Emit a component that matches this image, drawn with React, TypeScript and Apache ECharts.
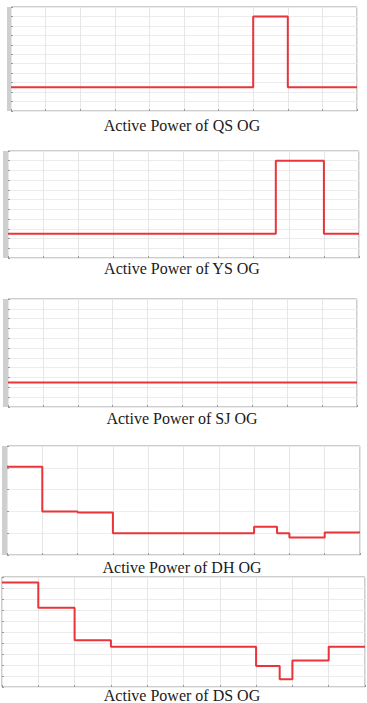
import React, { useEffect, useRef } from "react";
import * as echarts from "echarts";

// Step signals: breakpoint times and the level held from each time onward
const qsTimes = [0, 7, 8, 10];
const qsLevels = [2.5, 10, 2.5, 2.5];

const ysTimes = [0, 7.63, 9, 10];
const ysLevels = [2.5, 10, 2.5, 2.5];

const sjTimes = [0, 10];
const sjLevels = [2.5, 2.5];

const dhTimes = [0, 1, 2, 3, 7, 7.65, 8, 9, 10];
const dhLevels = [4.05, 2.0, 1.95, 1.0, 1.3, 1.0, 0.8, 1.03, 1.03];

const dsTimes = [0, 1, 2, 3, 7, 7.65, 8, 9, 10];
const dsLevels = [9.5, 7.2, 4.25, 3.65, 1.9, 0.7, 2.4, 3.65, 3.65];

const titles = [
  "Active Power of QS OG",
  "Active Power of YS OG",
  "Active Power of SJ OG",
  "Active Power of DH OG",
  "Active Power of DS OG",
];

const yMaxes = [11, 11, 11, 5, 10];

const panels = [
  { times: qsTimes, levels: qsLevels },
  { times: ysTimes, levels: ysLevels },
  { times: sjTimes, levels: sjLevels },
  { times: dhTimes, levels: dhLevels },
  { times: dsTimes, levels: dsLevels },
];

// layout (pixels)
const grids = [
  { left: 11, top: 7, width: 346, height: 104 },
  { left: 8, top: 151, width: 351, height: 107 },
  { left: 8, top: 299, width: 349, height: 108 },
  { left: 7, top: 446, width: 353, height: 109 },
  { left: 2, top: 577, width: 363, height: 110 },
];
const titleY = [125, 268, 418, 567, 695];
const stripW = [4, 5, 5, 5, 0];

export default function App() {
  const ref = useRef<HTMLDivElement>(null);
  useEffect(() => {
    if (!ref.current) return;
    const chart = echarts.init(ref.current, undefined, { renderer: "svg" });
    const gridOpts = grids.map((g) => ({
      ...g,
      show: true,
      borderColor: "#9a9a9a",
      borderWidth: 1,
      backgroundColor: "#ffffff",
      containLabel: false,
    }));
    const xAxes = grids.map((_, i) => ({
      type: "value",
      gridIndex: i,
      min: 0,
      max: 10,
      interval: 1,
      axisLine: { show: false },
      axisTick: { show: true, inside: true, length: 2, lineStyle: { color: "#999" } },
      axisLabel: { show: false },
      splitLine: { show: true, lineStyle: { color: "#e6e6e6", width: 1 } },
    }));
    const yAxes = grids.map((_, i) => ({
      type: "value",
      gridIndex: i,
      min: 0,
      max: yMaxes[i],
      interval: 1,
      axisLine: { show: false },
      axisTick: { show: true, inside: true, length: 2, lineStyle: { color: "#999" } },
      axisLabel: { show: false },
      splitLine: { show: true, lineStyle: { color: "#ececec", width: 1 } },
    }));
    const series = panels.map((p, i) => ({
      type: "line",
      xAxisIndex: i,
      yAxisIndex: i,
      step: "end",
      symbol: "none",
      lineStyle: { color: "#e8343a", width: 2 },
      data: p.times.map((t, k) => [t, p.levels[k]]),
    }));
    const graphics: any[] = [];
    grids.forEach((g, i) => {
      if (stripW[i] > 0) {
        graphics.push({
          type: "rect",
          shape: { x: g.left - stripW[i], y: g.top, width: stripW[i], height: g.height },
          style: { fill: "#cfcfcf" },
          silent: true,
        });
      }
      graphics.push({
        type: "text",
        x: 182,
        y: titleY[i],
        style: {
          text: titles[i],
          textAlign: "center",
          textVerticalAlign: "middle",
          font: "16px 'Liberation Serif', 'Times New Roman', serif",
          fill: "#1a1a1a",
        },
      });
    });
    chart.setOption({
      animation: false,
      backgroundColor: "#ffffff",
      grid: gridOpts,
      xAxis: xAxes,
      yAxis: yAxes,
      series,
      graphic: graphics,
    });
    return () => chart.dispose();
  }, []);
  return (
    <div
      ref={ref}
      style={{ position: "fixed", left: 0, top: 0, width: 367, height: 703 }}
    />
  );
}
